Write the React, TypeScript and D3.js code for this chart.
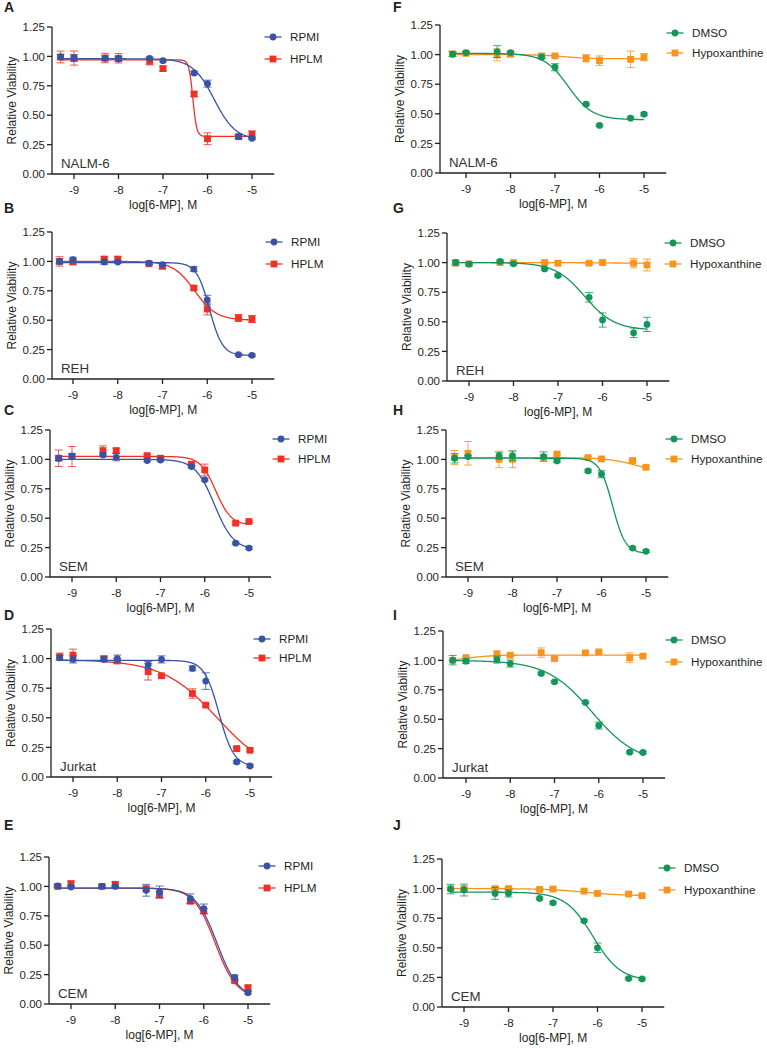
import React from "react";
import * as d3 from "d3";

// ---------- DATA ----------
const DOSES = [-9.301, -9, -8.301, -8, -7.301, -7, -6.301, -6, -5.301, -5];
const X_TICKS = [-9, -8, -7, -6, -5];
const Y_TICKS = [0, 0.25, 0.5, 0.75, 1.0, 1.25];
const X_TITLE = "log[6-MP], M";
const Y_TITLE = "Relative Viability";

// fit params: [top, bottom, logIC50, hill]
const A_RPMI = [0.995, 0.986, 0.984, 0.978, 0.984, 0.964, 0.859, 0.768, 0.317, 0.303];
const A_RPMI_ERR = [0.02, 0.03, 0.02, 0.02, 0.01, 0.01, 0.015, 0.03, 0.015, 0.01];
const A_RPMI_FIT = [0.98, 0.29, -5.85, 1.8];
const A_HPLM = [0.995, 0.986, 0.986, 0.984, 0.958, 0.896, 0.68, 0.3, 0.317, 0.337];
const A_HPLM_ERR = [0.05, 0.06, 0.04, 0.04, 0.03, 0.02, 0.02, 0.05, 0.02, 0.03];
const A_HPLM_FIT = [0.97, 0.32, -6.33, 10];

const B_RPMI = [1.0, 1.015, 0.995, 0.995, 0.986, 0.972, 0.935, 0.672, 0.207, 0.201];
const B_RPMI_ERR = [0.02, 0.02, 0.02, 0.01, 0.01, 0.01, 0.02, 0.04, 0.01, 0.01];
const B_RPMI_FIT = [0.99, 0.2, -5.95, 3];
const B_HPLM = [1.0, 0.995, 1.02, 1.02, 0.98, 0.958, 0.774, 0.595, 0.519, 0.51];
const B_HPLM_ERR = [0.04, 0.02, 0.02, 0.02, 0.01, 0.02, 0.015, 0.05, 0.03, 0.03];
const B_HPLM_FIT = [1.0, 0.5, -6.28, 1.8];

const C_RPMI = [1.01, 1.03, 1.038, 1.018, 0.99, 0.995, 0.939, 0.826, 0.288, 0.246];
const C_RPMI_ERR = [0.02, 0.02, 0.015, 0.03, 0.01, 0.01, 0.01, 0.01, 0.01, 0.01];
const C_RPMI_FIT = [1.0, 0.23, -5.78, 2];
const C_HPLM = [1.01, 1.024, 1.075, 1.075, 1.032, 1.01, 0.959, 0.91, 0.458, 0.472];
const C_HPLM_ERR = [0.07, 0.085, 0.04, 0.02, 0.01, 0.01, 0.01, 0.05, 0.01, 0.01];
const C_HPLM_FIT = [1.025, 0.44, -5.75, 2.5];

const D_RPMI = [1.007, 0.993, 0.993, 1.0, 0.945, 0.993, 0.917, 0.81, 0.127, 0.093];
const D_RPMI_ERR = [0.02, 0.03, 0.02, 0.03, 0.03, 0.03, 0.02, 0.07, 0.01, 0.01];
const D_RPMI_FIT = [0.985, 0.09, -5.7, 2.6];
const D_HPLM = [1.016, 1.03, 1.0, 0.98, 0.889, 0.855, 0.705, 0.607, 0.24, 0.226];
const D_HPLM_ERR = [0.03, 0.05, 0.02, 0.02, 0.07, 0.01, 0.04, 0.01, 0.01, 0.01];
const D_HPLM_FIT = [0.99, 0.0, -5.73, 0.7];

const E_RPMI = [1.004, 0.995, 1.001, 1.0, 0.967, 0.953, 0.896, 0.81, 0.226, 0.096];
const E_RPMI_ERR = [0.01, 0.01, 0.01, 0.01, 0.05, 0.05, 0.04, 0.04, 0.02, 0.01];
const E_RPMI_FIT = [0.985, 0.05, -5.7, 1.8];
const E_HPLM = [1.0, 1.024, 1.0, 1.018, 0.98, 0.93, 0.874, 0.79, 0.198, 0.139];
const E_HPLM_ERR = [0.01, 0.02, 0.01, 0.02, 0.02, 0.03, 0.02, 0.02, 0.01, 0.02];
const E_HPLM_FIT = [0.985, 0.05, -5.74, 1.8];

const F_DMSO = [1.003, 1.017, 1.025, 1.017, 0.978, 0.893, 0.581, 0.402, 0.463, 0.497];
const F_DMSO_ERR = [0.02, 0.01, 0.05, 0.01, 0.01, 0.03, 0.01, 0.01, 0.01, 0.01];
const F_DMSO_FIT = [1.01, 0.45, -6.7, 1.6];
const F_HYPO = [1.006, 1.01, 0.997, 1.003, 0.989, 0.989, 0.969, 0.949, 0.96, 0.978];
const F_HYPO_ERR = [0.02, 0.01, 0.05, 0.02, 0.02, 0.01, 0.03, 0.04, 0.07, 0.03];
const F_HYPO_FIT = [1.0, 0.965, -6.8, 1.5];

const G_DMSO = [1.001, 0.987, 1.01, 0.99, 0.947, 0.891, 0.707, 0.515, 0.407, 0.478];
const G_DMSO_ERR = [0.02, 0.01, 0.01, 0.01, 0.01, 0.01, 0.04, 0.06, 0.04, 0.06];
const G_DMSO_FIT = [1.0, 0.43, -6.4, 1.3];
const G_HYPO = [0.995, 0.99, 1.0, 1.0, 1.0, 0.995, 0.995, 1.0, 0.995, 0.98];
const G_HYPO_ERR = [0.02, 0.01, 0.01, 0.01, 0.01, 0.02, 0.01, 0.02, 0.04, 0.05];
const G_HYPO_FIT = [1.0, 0.995, -6, 1];

const H_DMSO = [1.01, 1.024, 1.03, 1.032, 1.024, 0.987, 0.902, 0.874, 0.246, 0.218];
const H_DMSO_ERR = [0.04, 0.01, 0.03, 0.04, 0.04, 0.01, 0.01, 0.03, 0.01, 0.01];
const H_DMSO_FIT = [1.01, 0.2, -5.75, 3];
const H_HYPO = [1.015, 1.052, 1.0, 1.0, 1.018, 1.046, 1.015, 1.004, 0.99, 0.933];
const H_HYPO_ERR = [0.06, 0.1, 0.07, 0.07, 0.02, 0.01, 0.01, 0.01, 0.01, 0.01];
const H_HYPO_FIT = [1.015, 0.88, -5.2, 1.3];

const I_DMSO = [1.002, 0.993, 1.007, 0.973, 0.889, 0.818, 0.643, 0.446, 0.22, 0.217];
const I_DMSO_ERR = [0.04, 0.02, 0.03, 0.03, 0.01, 0.01, 0.01, 0.03, 0.01, 0.01];
const I_DMSO_FIT = [1.0, 0.12, -6.15, 0.85];
const I_HYPO = [1.0, 1.024, 1.052, 1.044, 1.066, 1.016, 1.064, 1.072, 1.024, 1.036];
const I_HYPO_ERR = [0.01, 0.01, 0.03, 0.01, 0.04, 0.01, 0.01, 0.01, 0.04, 0.01];
const I_HYPO_FIT = [0.99, 1.045, -9.0, 1.5];

const J_DMSO = [0.996, 0.988, 0.959, 0.959, 0.917, 0.88, 0.728, 0.5, 0.24, 0.237];
const J_DMSO_ERR = [0.04, 0.05, 0.05, 0.03, 0.01, 0.01, 0.01, 0.04, 0.01, 0.01];
const J_DMSO_FIT = [0.97, 0.22, -6.1, 1.4];
const J_HYPO = [1.0, 1.0, 1.0, 1.0, 0.993, 0.996, 0.979, 0.959, 0.954, 0.94];
const J_HYPO_ERR = [0.01, 0.01, 0.01, 0.01, 0.01, 0.01, 0.01, 0.01, 0.01, 0.01];
const J_HYPO_FIT = [1.0, 0.94, -6.3, 1.0];

const BLUE = "#3953A4";
const RED = "#EE3124";
const GREEN = "#14965A";
const ORANGE = "#F7941D";
const INK = "#231F20";

const RPMI = (v, e, f) => ({ name: "RPMI", values: v, errs: e, fit: f, color: BLUE, shape: "circle" });
const HPLM = (v, e, f) => ({ name: "HPLM", values: v, errs: e, fit: f, color: RED, shape: "square" });
const DMSO = (v, e, f) => ({ name: "DMSO", values: v, errs: e, fit: f, color: GREEN, shape: "circle" });
const HYPO = (v, e, f) => ({ name: "Hypoxanthine", values: v, errs: e, fit: f, color: ORANGE, shape: "square" });

const PANELS = [
  { letter: "A", cell: "NALM-6", series: [RPMI(A_RPMI, A_RPMI_ERR, A_RPMI_FIT), HPLM(A_HPLM, A_HPLM_ERR, A_HPLM_FIT)] },
  { letter: "B", cell: "REH", series: [RPMI(B_RPMI, B_RPMI_ERR, B_RPMI_FIT), HPLM(B_HPLM, B_HPLM_ERR, B_HPLM_FIT)] },
  { letter: "C", cell: "SEM", series: [RPMI(C_RPMI, C_RPMI_ERR, C_RPMI_FIT), HPLM(C_HPLM, C_HPLM_ERR, C_HPLM_FIT)] },
  { letter: "D", cell: "Jurkat", series: [RPMI(D_RPMI, D_RPMI_ERR, D_RPMI_FIT), HPLM(D_HPLM, D_HPLM_ERR, D_HPLM_FIT)] },
  { letter: "E", cell: "CEM", series: [RPMI(E_RPMI, E_RPMI_ERR, E_RPMI_FIT), HPLM(E_HPLM, E_HPLM_ERR, E_HPLM_FIT)] },
  { letter: "F", cell: "NALM-6", series: [DMSO(F_DMSO, F_DMSO_ERR, F_DMSO_FIT), HYPO(F_HYPO, F_HYPO_ERR, F_HYPO_FIT)] },
  { letter: "G", cell: "REH", series: [DMSO(G_DMSO, G_DMSO_ERR, G_DMSO_FIT), HYPO(G_HYPO, G_HYPO_ERR, G_HYPO_FIT)] },
  { letter: "H", cell: "SEM", series: [DMSO(H_DMSO, H_DMSO_ERR, H_DMSO_FIT), HYPO(H_HYPO, H_HYPO_ERR, H_HYPO_FIT)] },
  { letter: "I", cell: "Jurkat", series: [DMSO(I_DMSO, I_DMSO_ERR, I_DMSO_FIT), HYPO(I_HYPO, I_HYPO_ERR, I_HYPO_FIT)] },
  { letter: "J", cell: "CEM", series: [DMSO(J_DMSO, J_DMSO_ERR, J_DMSO_FIT), HYPO(J_HYPO, J_HYPO_ERR, J_HYPO_FIT)] },
];

// ---------- LAYOUT (pixel positions of each panel) ----------
const LAYOUT = [
  { lx: 4, ly: 12, ax: 52, x9: 74, x5: 252, top: 27, zero: 174, legX: 273, legY1: 37, legY2: 59 },
  { lx: 4, ly: 213, ax: 52, x9: 73, x5: 252, top: 232, zero: 379, legX: 274, legY1: 242, legY2: 264 },
  { lx: 4, ly: 415, ax: 50, x9: 72, x5: 249, top: 430, zero: 577, legX: 281, legY1: 439, legY2: 459 },
  { lx: 4, ly: 620, ax: 51, x9: 73, x5: 250, top: 629, zero: 777, legX: 262, legY1: 639, legY2: 658 },
  { lx: 4, ly: 830, ax: 49, x9: 71, x5: 248, top: 857, zero: 1004, legX: 267, legY1: 866, legY2: 888 },
  { lx: 393, ly: 12, ax: 440, x9: 466, x5: 644, top: 25, zero: 173, legX: 675, legY1: 33, legY2: 53 },
  { lx: 393, ly: 213, ax: 447, x9: 469, x5: 647, top: 233, zero: 381, legX: 673, legY1: 243, legY2: 264 },
  { lx: 393, ly: 415, ax: 446, x9: 468, x5: 646, top: 430, zero: 577, legX: 674, legY1: 439, legY2: 459 },
  { lx: 393, ly: 620, ax: 443, x9: 466, x5: 643, top: 631, zero: 778, legX: 674, legY1: 640, legY2: 662 },
  { lx: 393, ly: 830, ax: 442, x9: 464, x5: 642, top: 859, zero: 1007, legX: 667, legY1: 868, legY2: 890 },
];

const FONT = "'Liberation Sans', Arial, Helvetica, sans-serif";

function logistic(fit, x) {
  const [top, bottom, c, h] = fit;
  return bottom + (top - bottom) / (1 + Math.pow(10, (x - c) * h));
}

function Marker({ shape, x, y, color }) {
  if (shape === "circle") return <circle cx={x} cy={y} r={3.4} fill={color} />;
  return <rect x={x - 3.4} y={y - 3.4} width={6.8} height={6.8} fill={color} />;
}

function Panel({ panel, lay }) {
  const xs = d3.scaleLinear().domain([-9, -5]).range([lay.x9, lay.x5]);
  const ys = d3.scaleLinear().domain([0, 1.25]).range([lay.zero, lay.top]);
  const xEnd = xs(-4.5);
  const line = d3
    .line()
    .x((d) => xs(d[0]))
    .y((d) => ys(d[1]))
    .curve(d3.curveLinear);
  const xMin = d3.min(DOSES);
  const xMax = d3.max(DOSES);
  const samples = d3.range(0, 301).map((i) => xMin + ((xMax - xMin) * i) / 300);
  const midY = (lay.top + lay.zero) / 2;
  const legYs = [lay.legY1, lay.legY2];
  const drawOrder = [...panel.series].reverse();

  return (
    <g>
      <text x={lay.lx} y={lay.ly} fontFamily={FONT} fontWeight="bold" fontSize={14} fill={INK}>
        {panel.letter}
      </text>
      {/* axes */}
      <line x1={lay.ax} x2={lay.ax} y1={lay.top} y2={lay.zero} stroke={INK} strokeWidth={1.3} />
      <line x1={lay.ax} x2={xEnd} y1={lay.zero} y2={lay.zero} stroke={INK} strokeWidth={1.3} />
      {Y_TICKS.map((t) => (
        <g key={"y" + t}>
          <line x1={lay.ax - 5} x2={lay.ax} y1={ys(t)} y2={ys(t)} stroke={INK} strokeWidth={1.3} />
          <text
            x={lay.ax - 7}
            y={ys(t)}
            dy="0.36em"
            textAnchor="end"
            fontFamily={FONT}
            fontSize={11.5}
            fill={INK}
          >
            {t.toFixed(2)}
          </text>
        </g>
      ))}
      {X_TICKS.map((t) => (
        <g key={"x" + t}>
          <line x1={xs(t)} x2={xs(t)} y1={lay.zero} y2={lay.zero + 5} stroke={INK} strokeWidth={1.3} />
          <text x={xs(t)} y={lay.zero + 20} textAnchor="middle" fontFamily={FONT} fontSize={11.5} fill={INK}>
            {String(t)}
          </text>
        </g>
      ))}
      <text
        x={(lay.ax + xEnd) / 2}
        y={lay.zero + 35}
        textAnchor="middle"
        fontFamily={FONT}
        fontSize={12}
        fill={INK}
      >
        {X_TITLE}
      </text>
      <text
        transform={`translate(${lay.ax - 40},${midY}) rotate(-90)`}
        textAnchor="middle"
        dy="0.36em"
        fontFamily={FONT}
        fontSize={12}
        fill={INK}
      >
        {Y_TITLE}
      </text>
      <text x={lay.ax + 9} y={lay.zero - 6} fontFamily={FONT} fontSize={13.3} fill="#333333">
        {panel.cell}
      </text>
      {/* data */}
      {drawOrder.map((s) => (
        <g key={s.name}>
          <path
            d={line(samples.map((x) => [x, logistic(s.fit, x)]))}
            fill="none"
            stroke={s.color}
            strokeWidth={1.3}
          />
          {DOSES.map((x, i) => {
            const v = s.values[i];
            const e = s.errs[i];
            const cx = xs(x);
            return (
              <g key={i}>
                <line x1={cx} x2={cx} y1={ys(v - e)} y2={ys(v + e)} stroke={s.color} strokeWidth={1} opacity={0.8} />
                <line x1={cx - 4} x2={cx + 4} y1={ys(v - e)} y2={ys(v - e)} stroke={s.color} strokeWidth={1} opacity={0.8} />
                <line x1={cx - 4} x2={cx + 4} y1={ys(v + e)} y2={ys(v + e)} stroke={s.color} strokeWidth={1} opacity={0.8} />
                <Marker shape={s.shape} x={cx} y={ys(v)} color={s.color} />
              </g>
            );
          })}
        </g>
      ))}
      {/* legend */}
      {panel.series.map((s, i) => (
        <g key={"leg" + s.name}>
          <line x1={lay.legX - 8.5} x2={lay.legX + 8.5} y1={legYs[i]} y2={legYs[i]} stroke={s.color} strokeWidth={1.3} />
          <Marker shape={s.shape} x={lay.legX} y={legYs[i]} color={s.color} />
          <text
            x={lay.legX + 17}
            y={legYs[i]}
            dy="0.36em"
            fontFamily={FONT}
            fontSize={11.7}
            fill={INK}
          >
            {s.name}
          </text>
        </g>
      ))}
    </g>
  );
}

export default function App() {
  return (
    <svg
      width={767}
      height={1048}
      viewBox="0 0 767 1048"
      style={{ position: "absolute", left: 0, top: 0, background: "#fff" }}
    >
      <rect width={767} height={1048} fill="#fff" />
      {PANELS.map((p, i) => (
        <Panel key={p.letter} panel={p} lay={LAYOUT[i]} />
      ))}
    </svg>
  );
}
